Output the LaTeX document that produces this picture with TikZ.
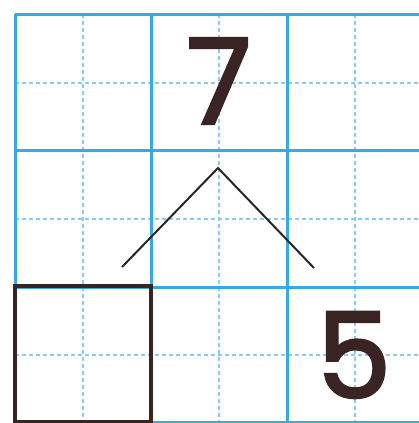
\documentclass[tikz,border=0pt]{standalone}
\usepackage{fontspec}
\usepackage{tikz}
\newfontfamily\digitfont{Poppins}
\definecolor{gridblue}{HTML}{3AA8E4}
\definecolor{guideblue}{HTML}{8CCBEE}
\definecolor{inkbrown}{HTML}{3A2323}

\begin{document}
\begin{tikzpicture}[x=1pt,y=-1pt,
  solidgrid/.style={gridblue, line width=3pt},
  dashgrid/.style={guideblue, line width=1.2pt, dash pattern=on 4pt off 3pt},
  digit/.style={inkbrown, inner sep=0pt, font=\digitfont\fontsize{118}{118}\selectfont\addfontfeature{FakeBold=2.5}},
  answerbox/.style={draw=inkbrown, line width=4.5pt, minimum size=136pt, inner sep=0pt},
  branch/.style={black!85, line width=2pt}]

\useasboundingbox (0,0) rectangle (419,423);

% Dashed guides
\foreach \p in {83,219,355} {
  \draw[dashgrid] (\p,14) -- (\p,423);
  \draw[dashgrid] (15,\p) -- (419,\p);
}

% Grid
\foreach \p in {15,151,287} {
  \draw[solidgrid] (\p,14) -- (\p,423);
}
\foreach \p in {14,150,287,422} {
  \draw[solidgrid] (15,\p) -- (419,\p);
}

% Points
\coordinate (apex) at (218,168);
\coordinate (leftend) at (122,267);
\coordinate (rightend) at (314,268);

% Numbers
\node[digit] (seven) at (219,81) {7};
\node[digit] (five) at (354,355) {5};

% Box
\node[answerbox] (blank) at (83,354) {};

% Branches
\draw[branch] (leftend) -- (apex) -- (rightend);

\end{tikzpicture}
\end{document}
